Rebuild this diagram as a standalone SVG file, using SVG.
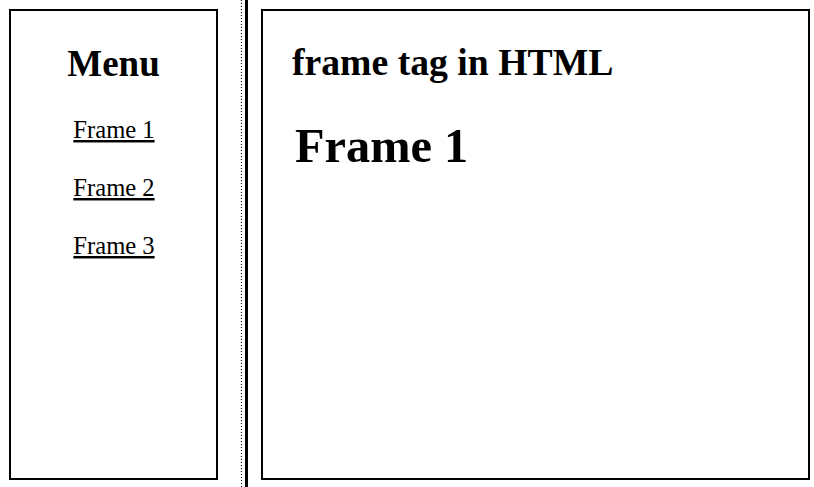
<svg xmlns="http://www.w3.org/2000/svg" width="814" height="487" viewBox="0 0 814 487">
<style>
.frame{fill:#fff;stroke:#000;stroke-width:2}
.t{font-family:"Liberation Serif","Times New Roman",serif;fill:#000}
.b{font-weight:bold}
.link{font-size:24.6px;text-anchor:middle;text-decoration:underline}
</style>
<rect x="0" y="0" width="814" height="487" fill="#fff"/>
<g id="left-frame">
<rect class="frame" x="10" y="10" width="207" height="469"/>
<text class="t b" x="113.5" y="76" font-size="37" text-anchor="middle">Menu</text>
<text class="t link" x="114" y="138">Frame 1</text>
<text class="t link" x="114" y="196">Frame 2</text>
<text class="t link" x="114" y="254">Frame 3</text>
</g>
<g id="separator">
<line x1="241.5" y1="0" x2="241.5" y2="487" stroke="#000" stroke-width="1" stroke-dasharray="1 2"/>
<rect x="245" y="0" width="3" height="487" fill="#000"/>
</g>
<g id="right-frame">
<rect class="frame" x="262" y="10" width="547" height="469"/>
<text class="t b" x="292" y="75" font-size="37.7">frame tag in HTML</text>
<text class="t b" x="295" y="162" font-size="48.4">Frame 1</text>
</g>
</svg>
